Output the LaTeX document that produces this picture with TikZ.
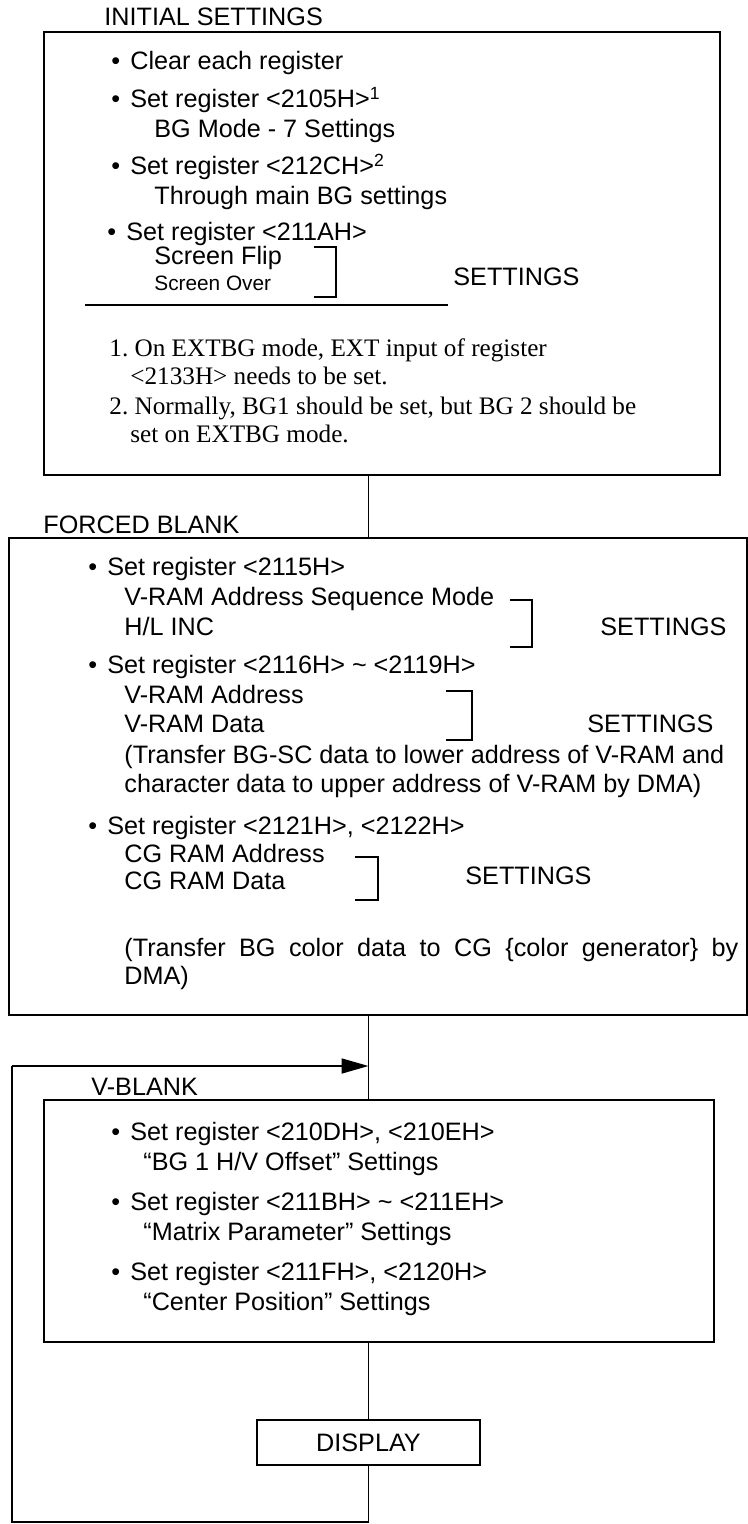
\documentclass[tikz,border=0pt]{standalone}
\usepackage{fontspec}
\setmainfont{Liberation Sans}
\newfontfamily\notefont{Liberation Serif}
\usetikzlibrary{arrows.meta}
\frenchspacing

\newcommand{\bul}{\makebox[9.5pt][l]{\textbullet}}

\tikzset{
  box/.style={draw, line width=1pt, inner sep=0pt},
  txt/.style={anchor=base west, inner sep=0pt, font=\fontsize{12.6}{15}\selectfont},
  smalltxt/.style={txt, font=\fontsize{10.4}{12}\selectfont},
  note/.style={anchor=base west, inner sep=0pt, font=\notefont\fontsize{12.6}{15}\selectfont},
  brk/.style={line width=1pt},
  conn/.style={line width=0.9pt},
}

\begin{document}
\begin{tikzpicture}[x=0.5pt, y=-0.5pt]
	\useasboundingbox (0,0) rectangle (748,1524);
	% boxes
	\node[box, minimum width=338pt, minimum height=221.5pt] (init) at (382,253.5) {};
	\node[box, minimum width=369pt, minimum height=238.5pt] (forced) at (378,776.5) {};
	\node[box, minimum width=335pt, minimum height=121pt] (vblank) at (379,1221) {};
	\node[box, minimum width=111.5pt, minimum height=22.5pt, font=\fontsize{12.6}{15}\selectfont] (disp) at (368.5,1442.5) {DISPLAY};

	% initial settings
	\node[txt] (ttlinit) at (104,26) {INITIAL SETTINGS};
	\node[txt] (a1) at (111,70) {\bul Clear each register};
	\node[txt] (a2) at (111,108) {\bul Set register <2105H>\textsuperscript{1}};
	\node[txt] (a3) at (154,138) {BG Mode - 7 Settings};
	\node[txt] (a4) at (111,175) {\bul Set register <212CH>\textsuperscript{2}};
	\node[txt] (a5) at (154,205) {Through main BG settings};
	\node[txt] (a6) at (107,241) {\bul Set register <211AH>};
	\node[txt] (a7) at (154,265) {Screen Flip};
	\node[smalltxt] (a8) at (154,291) {Screen Over};
	\node[txt] (a9) at (453,286) {SETTINGS};
	\draw[brk] (314,247) -| (336,297) -- (314,297);
	\draw[brk] (85,305) -- (448,305);
	\node[note] (n1) at (109,357) {1. On EXTBG mode, EXT input of register};
	\node[note] (n2) at (130,385) {<2133H> needs to be set.};
	\node[note] (n3) at (109,414) {2. Normally, BG1 should be set, but BG 2 should be};
	\node[note] (n4) at (130,442) {set on EXTBG mode.};

	% forced blank
	\node[txt] (ttlforced) at (43,533) {FORCED BLANK};
	\node[txt] (b1) at (88,575) {\bul Set register <2115H>};
	\node[txt] (b2) at (124,605) {V-RAM Address Sequence Mode};
	\node[txt] (b3) at (124,635) {H/L INC};
	\node[txt] (b4) at (600,635) {SETTINGS};
	\draw[brk] (510,600) -| (532,647) -- (510,647);
	\node[txt] (b5) at (88,673) {\bul Set register <2116H> \textasciitilde\ <2119H>};
	\node[txt] (b6) at (124,703) {V-RAM Address};
	\node[txt] (b7) at (124,732) {V-RAM Data};
	\node[txt] (b8) at (587,732) {SETTINGS};
	\draw[brk] (446,691) -| (472,740) -- (446,740);
	\node[txt] (b9) at (124,763) {(Transfer BG-SC data to lower address of V-RAM and};
	\node[txt] (b10) at (124,792) {character data to upper address of V-RAM by DMA)};
	\node[txt] (b11) at (88,834) {\bul Set register <2121H>, <2122H>};
	\node[txt] (b12) at (124,862) {CG RAM Address};
	\node[txt] (b13) at (124,889) {CG RAM Data};
	\node[txt] (b14) at (465,884) {SETTINGS};
	\draw[brk] (355,857) -| (378,900) -- (355,900);
	\node[txt] (b15) at (124,956) {\makebox[307pt][s]{(Transfer BG color data to CG \{color generator\} by}};
	\node[txt] (b16) at (124,984) {DMA)};

	% v-blank
	\node[txt] (ttlvblank) at (91,1095) {V-BLANK};
	\node[txt] (c1) at (111,1140) {\bul Set register <210DH>, <210EH>};
	\node[txt] (c2) at (143,1170) {“BG 1 H/V Offset” Settings};
	\node[txt] (c3) at (111,1210) {\bul Set register <211BH> \textasciitilde\ <211EH>};
	\node[txt] (c4) at (143,1240) {“Matrix Parameter” Settings};
	\node[txt] (c5) at (111,1280) {\bul Set register <211FH>, <2120H>};
	\node[txt] (c6) at (143,1310) {“Center Position” Settings};

	% flow
	\coordinate (loopbot) at (12,1522);
	\coordinate (looptop) at (12,1066);
	\draw[conn] (init.south -| disp) -- (forced.north -| disp);
	\draw[conn] (forced.south -| disp) -- (vblank.north -| disp);
	\draw[conn] (vblank.south -| disp) -- (disp.north);
	\draw[conn] (disp.south) |- (loopbot) -- (looptop);
	\draw[conn, -{Triangle[length=13.5pt, width=7.5pt]}] (looptop) -- (looptop -| disp);
\end{tikzpicture}
\end{document}
